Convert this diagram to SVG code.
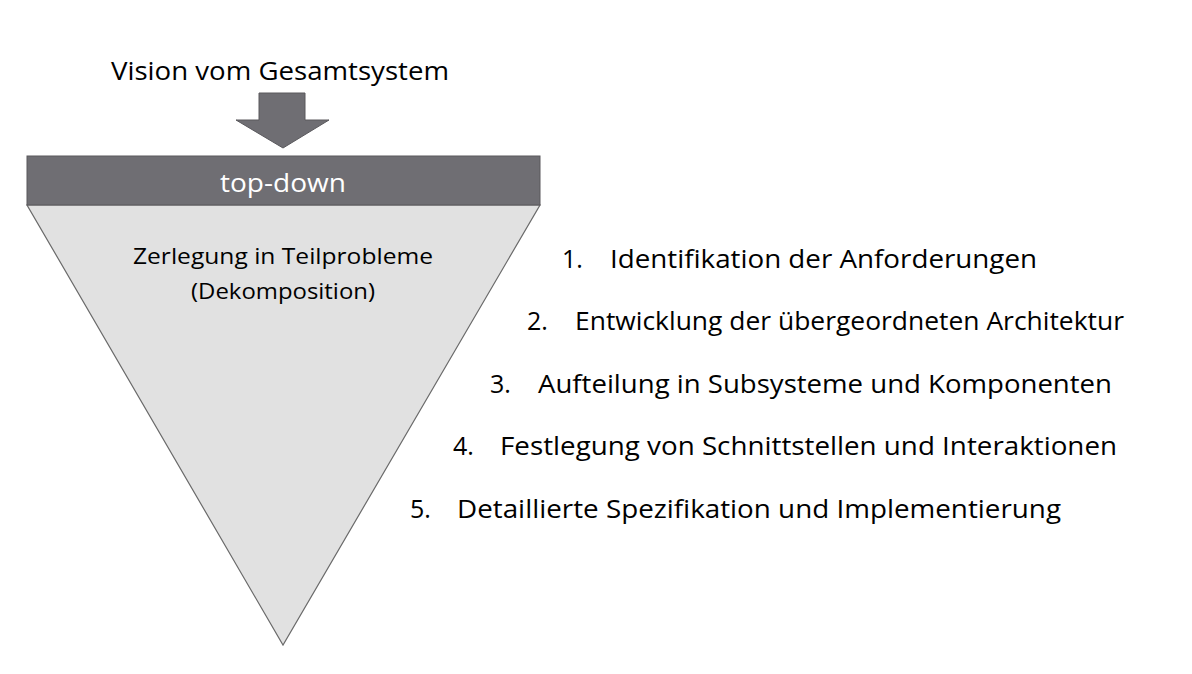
<svg xmlns="http://www.w3.org/2000/svg" width="1192" height="674" viewBox="0 0 1192 674">
<style>
text{font-family:"Open Sans","Liberation Sans",sans-serif;fill:#000}
.item{font-size:25px}
.dark{fill:#6f6e73;stroke:#5a595d;stroke-width:1}
</style>
<rect width="1192" height="674" fill="#fff"/>
<g id="vision">
<text x="280" y="80" font-size="26" text-anchor="middle" textLength="338" lengthAdjust="spacingAndGlyphs">Vision vom Gesamtsystem</text>
</g>
<g id="connectors">
<polygon class="dark" points="259,93 305,93 305,120 329,120 283,148 236,120 259,120"/>
</g>
<g id="triangle">
<polygon points="27,205 540,205 283,645" fill="#e1e1e1" stroke="#6a6a6a" stroke-width="1.2"/>
<text x="283" y="264" font-size="21" text-anchor="middle" textLength="300" lengthAdjust="spacingAndGlyphs">Zerlegung in Teilprobleme</text>
<text x="283" y="299" font-size="21" text-anchor="middle" textLength="184" lengthAdjust="spacingAndGlyphs">(Dekomposition)</text>
</g>
<g id="topdown">
<rect class="dark" x="27" y="156" width="513" height="49"/>
<text x="283" y="192" font-size="25" text-anchor="middle" fill="#fff" style="fill:#fff" textLength="126" lengthAdjust="spacingAndGlyphs">top-down</text>
</g>
<g id="step1"><text class="item" x="562" y="268">1.</text><text class="item" x="610" y="268" textLength="427" lengthAdjust="spacingAndGlyphs">Identifikation der Anforderungen</text></g>
<g id="step2"><text class="item" x="527" y="330">2.</text><text class="item" x="575" y="330" textLength="549" lengthAdjust="spacingAndGlyphs">Entwicklung der übergeordneten Architektur</text></g>
<g id="step3"><text class="item" x="490" y="393">3.</text><text class="item" x="538" y="393" textLength="574" lengthAdjust="spacingAndGlyphs">Aufteilung in Subsysteme und Komponenten</text></g>
<g id="step4"><text class="item" x="453" y="455">4.</text><text class="item" x="500" y="455" textLength="617" lengthAdjust="spacingAndGlyphs">Festlegung von Schnittstellen und Interaktionen</text></g>
<g id="step5"><text class="item" x="410" y="518">5.</text><text class="item" x="457" y="518" textLength="604" lengthAdjust="spacingAndGlyphs">Detaillierte Spezifikation und Implementierung</text></g>
</svg>
